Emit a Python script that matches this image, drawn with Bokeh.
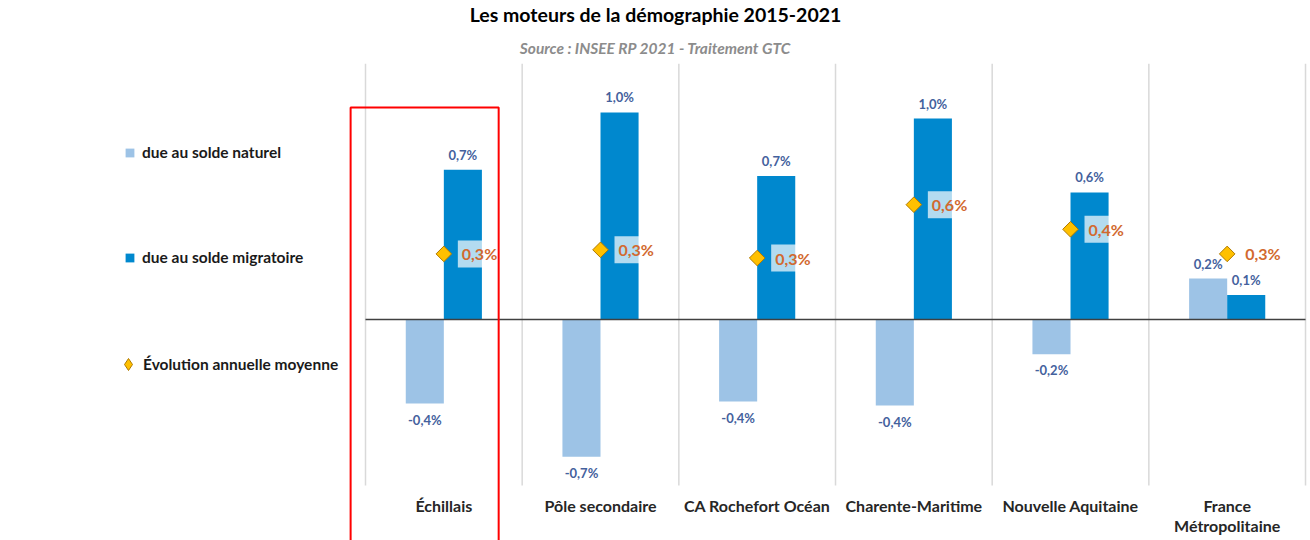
import numpy as np
from bokeh.plotting import figure
from bokeh.models import ColumnDataSource, Legend, LegendItem, Title, Range1d
from bokeh.embed import file_html
from bokeh.resources import INLINE
from bokeh.core.properties import value

# ---------------- data ----------------
categories = ["Échillais", "Pôle secondaire", "CA Rochefort Océan",
              "Charente-Maritime", "Nouvelle Aquitaine", "France\nMétropolitaine"]
solde_naturel = [-0.41, -0.67, -0.40, -0.42, -0.17, 0.20]
solde_migratoire = [0.73, 1.01, 0.70, 0.98, 0.62, 0.12]
evolution = [0.32, 0.34, 0.30, 0.56, 0.44, 0.32]
series_names = ["due au solde naturel", "due au solde migratoire", "Évolution annuelle moyenne"]
title_text = "Les moteurs de la démographie 2015-2021"
subtitle_text = "Source : INSEE RP 2021 - Traitement GTC"

# ---------------- styles ----------------
FONT_NAME = "Lato"
FONT = value(FONT_NAME)
C_NAT = "#9DC3E6"
C_MIG = "#0088CE"
C_DIA = "#FFC000"
C_DIA_EDGE = "#B07A00"
C_VAL = "#44619D"
C_EVO = "#D2692F"

W, H = 1310, 540
TOP_BORDER = 63
frame_h = H - TOP_BORDER
ZERO_FROM_TOP = 256          # zero line distance from the frame top, px
PX_PER_PCT = 205.0
PX_PER_CAT = 156.67
LEFT_SPACE = 365.0           # frame left -> first category boundary, px

y_end = ZERO_FROM_TOP / PX_PER_PCT
y_start = -(frame_h - ZERO_FROM_TOP) / PX_PER_PCT
x_start = -LEFT_SPACE / PX_PER_CAT
x_end = (W - LEFT_SPACE) / PX_PER_CAT


def fmt(v):
    return f"{v:.1f}".replace(".", ",") + "%"


n = len(categories)
cx = np.arange(n) + 0.5
bar_w = 0.243

p = figure(width=W, height=H, output_backend="svg", toolbar_location=None,
           x_range=Range1d(x_start, x_end), y_range=Range1d(y_start, y_end),
           x_axis_type=None, y_axis_type=None, title=None,
           min_border_left=0, min_border_right=0, min_border_bottom=0,
           min_border_top=TOP_BORDER, outline_line_color=None)

sub = Title(text=subtitle_text, align="center", text_font=FONT_NAME,
            text_font_size="15.5px", text_font_style="bold italic", text_color="#8C8C8C",
            vertical_align="bottom", standoff=13)
main = Title(text=title_text, align="center", text_font=FONT_NAME,
             text_font_size="19.5px", text_font_style="bold", text_color="#000000",
             vertical_align="top", standoff=5)
p.add_layout(sub, "above")
p.add_layout(main, "above")

# vertical separators
gx = np.arange(n + 1)
p.segment(x0=gx, x1=gx, y0=-0.81, y1=y_end, line_color="#D9D9D9", line_width=1.5)

# bars
r_nat = p.vbar(x=cx - bar_w / 2, top=solde_naturel, bottom=0, width=bar_w,
               fill_color=C_NAT, line_color=None)
r_mig = p.vbar(x=cx + bar_w / 2, top=solde_migratoire, bottom=0, width=bar_w,
               fill_color=C_MIG, line_color=None)

# zero line
p.segment(x0=[0], x1=[n], y0=[0], y1=[0], line_color="#404040", line_width=1.5)

# bar value labels
vals = np.array(solde_naturel + solde_migratoire)
lab_src = ColumnDataSource(dict(
    x=np.concatenate([cx - bar_w / 2, cx + bar_w / 2]),
    y=vals,
    t=[fmt(v) for v in vals],
    yo=np.where(vals >= 0, -15, 16),
))
p.text(x="x", y="y", text="t", y_offset="yo", source=lab_src,
       text_align="center", text_baseline="middle", text_font=FONT,
       text_font_size="13px", text_font_style="bold", text_color=C_VAL)

# evolution markers
p.scatter(x=cx, y=evolution, marker="square", angle=np.pi / 4, size=11,
          fill_color=C_DIA, line_color=C_DIA_EDGE, line_width=1)
p.text(x=cx, y=evolution, text=[fmt(v) for v in evolution], x_offset=14,
       text_align="left", text_baseline="middle", text_font=FONT,
       text_font_size="16px", text_font_style="bold", text_color=C_EVO,
       background_fill_color="white", background_fill_alpha=0.7, padding=4)
# legend-only glyph (diamond shape) for the evolution series, kept outside the view
r_evo_leg = p.scatter(x=[x_start - 5], y=[0], marker="diamond", size=12,
                      fill_color=C_DIA, line_color=C_DIA_EDGE, line_width=1)

# category labels
p.text(x=cx, y=-0.860, text=categories, text_align="center", text_baseline="top",
       text_font=FONT, text_font_size="16px", text_font_style="bold",
       text_color="#262626", text_line_height=1.05)

# highlight frame around the first category
p.quad(left=[-0.095], right=[0.850], top=[1.034], bottom=[y_start - 1],
       fill_color=None, line_color="#FF0000", line_width=2)

# legends
common = dict(padding=0, margin=0, border_line_color=None, background_fill_alpha=0,
              label_text_font=FONT_NAME, label_text_font_size="15.5px",
              label_text_font_style="bold", label_text_color="#1A1A1A",
              label_height=20)
leg_a = Legend(items=[LegendItem(label=series_names[0], renderers=[r_nat]),
                      LegendItem(label=series_names[1], renderers=[r_mig])],
               location=(124, H - 267), spacing=85, glyph_width=11, glyph_height=11,
               label_standoff=7, **common)
leg_b = Legend(items=[LegendItem(label=series_names[2], renderers=[r_evo_leg])],
               location=(113, H - 379), glyph_width=30, glyph_height=30,
               label_standoff=0, **common)
p.add_layout(leg_a)
p.add_layout(leg_b)

open("out.html", "w").write(file_html(p, INLINE))
